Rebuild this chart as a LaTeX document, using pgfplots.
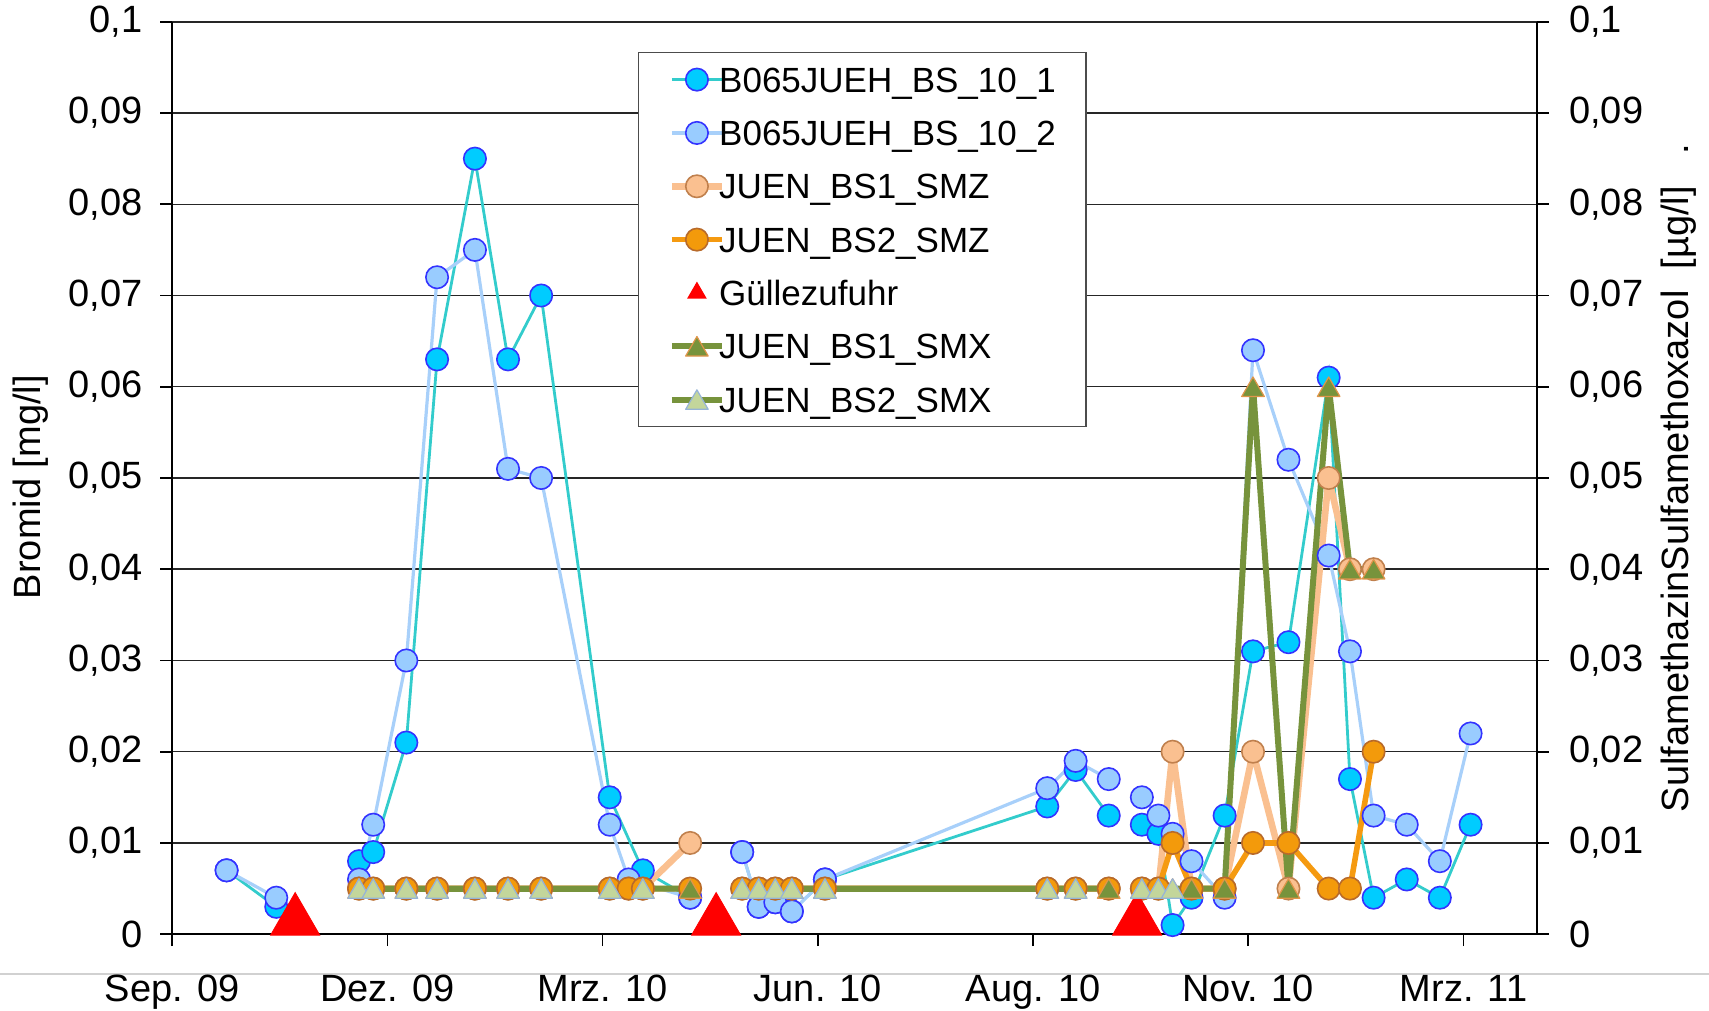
\documentclass[border=0pt]{standalone}
\usepackage{fontspec}
\setmainfont{Liberation Sans}
\usepackage{pgfplots}
\pgfplotsset{compat=1.18}
\usepackage{pgfplotstable}

\definecolor{cyanfill}{HTML}{00CCFF}
\definecolor{blueedge}{HTML}{3333FF}
\definecolor{turq}{HTML}{33CCCC}
\definecolor{lbfill}{HTML}{99CCFF}
\definecolor{lbline}{HTML}{A8D0FA}
\definecolor{peach}{HTML}{FAC090}
\definecolor{peachedge}{HTML}{C0804D}
\definecolor{orangefill}{HTML}{F39A0B}
\definecolor{orangeedge}{HTML}{B86A2A}
\definecolor{orangeline}{HTML}{F59A10}
\definecolor{olive}{HTML}{77933C}
\definecolor{smxoneedge}{HTML}{E0954A}
\definecolor{smxtwofill}{HTML}{C3D69B}
\definecolor{smxtwoedge}{HTML}{95B3D7}

% days since 1 Sep 2009; nan = no value (line break)
\pgfplotstableread{
d v
23 0.007
44 0.003
52 nan
79 0.008
85 0.009
99 0.021
112 0.063
128 0.085
142 0.063
156 0.070
185 0.015
199 0.007
219 0.004
230 nan
241 0.009
248 0.003
255 0.0035
262 0.0025
276 0.006
370 0.014
382 0.018
396 0.013
408 nan
410 0.012
417 0.011
423 0.001
431 0.004
445 0.013
457 0.031
472 0.032
489 0.061
498 0.017
508 0.004
522 0.006
536 0.004
549 0.012
}\bsone

\pgfplotstableread{
d v
23 0.007
44 0.004
52 nan
79 0.006
85 0.012
99 0.030
112 0.072
128 0.075
142 0.051
156 0.050
185 0.012
193 0.006
219 0.004
230 nan
241 0.009
248 0.003
255 0.0035
262 0.0025
276 0.006
370 0.016
382 0.019
396 0.017
408 nan
410 0.015
417 0.013
423 0.011
431 0.008
445 0.004
457 0.064
472 0.052
489 0.0415
498 0.031
508 0.013
522 0.012
536 0.008
549 0.022
}\bstwo

\pgfplotstableread{
d v
79 0.005
85 0.005
99 0.005
112 0.005
128 0.005
142 0.005
156 0.005
185 0.005
193 0.005
199 0.005
219 0.010
230 nan
241 0.005
248 0.005
255 0.005
262 0.005
276 0.005
370 0.005
382 0.005
396 0.005
408 nan
410 0.005
417 0.005
423 0.020
431 0.005
445 0.005
457 0.020
472 0.005
489 0.050
498 0.040
508 0.040
}\smzone

\pgfplotstableread{
d v
79 0.005
85 0.005
99 0.005
112 0.005
128 0.005
142 0.005
156 0.005
185 0.005
193 0.005
199 0.005
219 0.005
230 nan
241 0.005
248 0.005
255 0.005
262 0.005
276 0.005
370 0.005
382 0.005
396 0.005
408 nan
410 0.005
417 0.005
423 0.010
431 0.005
445 0.005
457 0.010
472 0.010
489 0.005
498 0.005
508 0.020
}\smztwo

\pgfplotstableread{
d v
52 0.002
230 0.002
408 0.002
}\guelle

\pgfplotstableread{
d v
79 0.005
85 0.005
99 0.005
112 0.005
128 0.005
142 0.005
156 0.005
185 0.005
199 0.005
219 0.005
230 nan
241 0.005
248 0.005
255 0.005
262 0.005
276 0.005
370 0.005
382 0.005
396 0.005
408 nan
410 0.005
417 0.005
423 0.005
431 0.005
445 0.005
457 0.060
472 0.005
489 0.060
498 0.040
508 0.040
}\smxone

\pgfplotstableread{
d v
79 0.005
85 0.005
99 0.005
112 0.005
128 0.005
142 0.005
156 0.005
185 0.005
199 0.005
230 nan
241 0.005
248 0.005
255 0.005
262 0.005
276 0.005
370 0.005
382 0.005
408 nan
410 0.005
417 0.005
423 0.005
}\smxtwo

\newcommand{\tfont}{\fontsize{19}{22}\selectfont}
\pgfplotsset{
  ynum/.style={
    /pgf/number format/use comma,
    /pgf/number format/fixed,
    /pgf/number format/precision=2,
    /pgf/number format/assume math mode=true}
}

\begin{document}
\begin{tikzpicture}
\useasboundingbox (-86.1pt,-37.95pt) rectangle (768.4pt,467.1pt);
\draw[black!18, line width=1pt] (-86.1pt,-19.7pt) -- (768.4pt,-19.7pt);
\begin{axis}[
  at={(0pt,0pt)}, anchor=south west,
  scale only axis, width=682.3pt, height=456.2pt,
  xmin=0, xmax=577, ymin=0, ymax=0.1,
  clip=false, unbounded coords=jump,
  axis x line*=bottom, axis y line*=left,
  axis line style={black, line width=1.1pt},
  xtick={0,91,182,273,364,455,546},
  xticklabels={Sep. 09,Dez. 09,Mrz. 10,Jun. 10,Aug. 10,Nov. 10,Mrz. 11},
  ytick={0,0.01,0.02,0.03,0.04,0.05,0.06,0.07,0.08,0.09,0.1},
  tick align=outside, major tick length=6pt,
  tick style={black, line width=0.8pt},
  ymajorgrids, grid style={black!85, line width=0.75pt},
  ticklabel style={font=\tfont},
  yticklabel style={ynum, anchor=east, inner sep=0pt, xshift=-8.7pt},
  xticklabel style={anchor=base, inner sep=0pt, yshift=-27.6pt},
  ylabel={Bromid [mg/l]},
  ylabel style={font=\tfont, at={(axis description cs:-0.1038,0.49)}, anchor=center},
  legend cell align=left,
  legend image code/.code={\draw[mark repeat=2,mark phase=2] plot coordinates {(0pt,0pt) (12.5pt,0pt) (25pt,0pt)};},
  legend style={at={(axis description cs:0.3413,0.967)}, anchor=north west,
    draw=black!70, line width=0.7pt, fill=white,
    inner xsep=15pt, inner ysep=6.75pt, row sep=13.17pt, column sep=-3pt,
    font=\fontsize{17.5}{20}\selectfont,
    nodes={inner sep=0pt, text height=13pt, text depth=0.5pt}},
]
\addplot[color=turq, line width=1.4pt, mark=*, mark size=5.6pt,
  mark options={fill=cyanfill, draw=blueedge, line width=0.8pt}] table[x=d,y=v] {\bsone};
\addlegendentry{B065JUEH\_BS\_10\_1}
\addplot[color=lbline, line width=1.6pt, mark=*, mark size=5.6pt,
  mark options={fill=lbfill, draw=blueedge, line width=0.8pt}] table[x=d,y=v] {\bstwo};
\addlegendentry{B065JUEH\_BS\_10\_2}
\addplot[color=peach, line width=3.3pt, line join=round, mark=*, mark size=5.6pt,
  mark options={fill=peach, draw=peachedge, line width=0.8pt}] table[x=d,y=v] {\smzone};
\addlegendentry{JUEN\_BS1\_SMZ}
\addplot[color=orangeline, line width=2.8pt, line join=round, mark=*, mark size=5.6pt,
  mark options={fill=orangefill, draw=orangeedge, line width=0.8pt}] table[x=d,y=v] {\smztwo};
\addlegendentry{JUEN\_BS2\_SMZ}
\addplot[only marks, mark=triangle*, mark size=14.2pt,
  mark options={fill=red, draw=red, yshift=-2.5pt},
  legend image code/.code={\path[draw=none] (0pt,0pt) -- (25pt,0pt);
    \path[draw=none] plot[mark=triangle*, mark size=5pt, mark options={fill=red, draw=red}] coordinates {(12.5pt,0pt)};}]
  table[x=d,y=v] {\guelle};
\addlegendentry{Güllezufuhr}
\addplot[color=olive, line width=3pt, line join=round, mark=triangle*, mark size=6.5pt,
  mark options={fill=olive, draw=smxoneedge, line width=0.6pt, yshift=-1.6pt}] table[x=d,y=v] {\smxone};
\addlegendentry{JUEN\_BS1\_SMX}
\addplot[color=olive, line width=3pt, line join=round, mark=triangle*, mark size=6.5pt,
  mark options={fill=smxtwofill, draw=smxtwoedge, line width=0.6pt, yshift=-1.6pt}] table[x=d,y=v] {\smxtwo};
\addlegendentry{JUEN\_BS2\_SMX}
\end{axis}
\begin{axis}[
  at={(0pt,0pt)}, anchor=south west,
  scale only axis, width=682.3pt, height=456.2pt,
  xmin=0, xmax=577, ymin=0, ymax=0.1,
  axis x line=none, axis y line*=right,
  axis line style={black, line width=1.1pt},
  ytick={0,0.01,0.02,0.03,0.04,0.05,0.06,0.07,0.08,0.09,0.1},
  tick align=outside, major tick length=6pt,
  tick style={black, line width=0.8pt},
  ticklabel style={font=\tfont},
  yticklabel style={ynum, anchor=west, inner sep=0pt, xshift=10pt},
  ylabel={SulfamethazinSulfamethoxazol\ \ [µg/l]\ \ \ .},
  ylabel style={font=\tfont, at={(axis description cs:1.104,0.5)}, anchor=center},
]
\end{axis}
\end{tikzpicture}
\end{document}
